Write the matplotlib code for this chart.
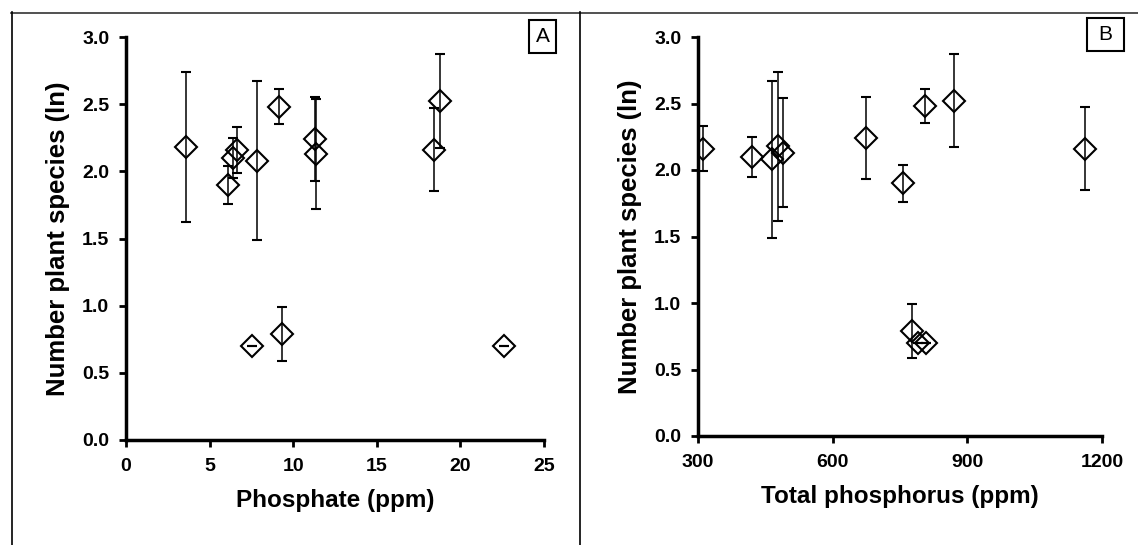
import matplotlib
matplotlib.use("Agg")
import matplotlib.pyplot as plt
from matplotlib.lines import Line2D
from matplotlib.patches import Rectangle

# ---- data (shared y values, two x variables) ----
species_ln = [2.18, 1.90, 2.10, 2.16, 2.08, 0.70, 2.48, 0.79, 2.24, 2.13, 2.16, 2.52, 0.70]
species_err = [0.56, 0.14, 0.15, 0.17, 0.59, 0.0, 0.13, 0.20, 0.31, 0.41, 0.31, 0.35, 0.0]
phosphate_ppm = [3.57, 6.09, 6.42, 6.61, 7.81, 7.53, 9.18, 9.33, 11.31, 11.35, 18.43, 18.80, 22.63]
total_p_ppm = [479, 756, 421, 312, 465, 789, 805, 776, 675, 490, 1162, 871, 809]

y_ticks = [0.0, 0.5, 1.0, 1.5, 2.0, 2.5, 3.0]
phosphate_ticks = [0, 5, 10, 15, 20, 25]
total_p_ticks = [300, 600, 900, 1200]

plt.rcParams['font.family'] = ['Liberation Sans', 'DejaVu Sans']

W, H = 1138, 545
fig = plt.figure(figsize=(W / 100, H / 100), dpi=100)


def fx(px):
    return px / W


def fy(py):
    return 1 - py / H


axA = fig.add_axes([fx(126), fy(440), fx(544) - fx(126), fy(37) - fy(440)])
axB = fig.add_axes([fx(698), fy(436), fx(1102) - fx(698), fy(37) - fy(436)])


def style(ax, x, xticks, xlim, xlabel):
    ax.errorbar(x, species_ln, yerr=species_err, fmt='D', mfc='none', mec='black',
                ms=11, mew=1.5, ecolor='black', elinewidth=1.1, capsize=3.5,
                capthick=1.4, zorder=3)
    ax.set_xlim(*xlim)
    ax.set_ylim(0, 3)
    ax.set_xticks(xticks)
    ax.set_yticks(y_ticks)
    ax.set_yticklabels([f"{v:.1f}" for v in y_ticks])
    for s in ['top', 'right']:
        ax.spines[s].set_visible(False)
    for s in ['left', 'bottom']:
        ax.spines[s].set_linewidth(2.5)
    ax.tick_params(direction='out', length=5, width=2, labelsize=14)
    ax.tick_params(axis='x', pad=8)
    ax.tick_params(axis='y', pad=7)
    for lab in ax.get_xticklabels() + ax.get_yticklabels():
        lab.set_fontweight('bold')
    ax.set_xlabel(xlabel, fontsize=17.5, fontweight='bold', labelpad=10)
    ax.set_ylabel("Number plant species (ln)", fontsize=18.5, fontweight='bold', labelpad=9)
    ax.patch.set_alpha(0)


style(axA, phosphate_ppm, phosphate_ticks, (0, 25), "Phosphate (ppm)")
style(axB, total_p_ppm, total_p_ticks, (300, 1200), "Total phosphorus (ppm)")

# panel letter boxes
for (x0, y0, x1, y1, letter) in [(529, 20, 556, 53, "A"), (1087, 18, 1124, 51, "B")]:
    fig.patches.append(Rectangle((fx(x0), fy(y1)), fx(x1) - fx(x0), fy(y0) - fy(y1),
                                 transform=fig.transFigure, fill=False, ec='black', lw=1.5))
    fig.text(fx((x0 + x1) / 2), fy((y0 + y1) / 2), letter, ha='center', va='center',
             fontsize=15)

# frame lines
fig.lines.append(Line2D([fx(11), fx(1138)], [fy(12.5), fy(12.5)], transform=fig.transFigure,
                        color='#333333', lw=1.2))
fig.lines.append(Line2D([fx(11.5), fx(11.5)], [fy(12), fy(545)], transform=fig.transFigure,
                        color='black', lw=1.2))
fig.lines.append(Line2D([fx(580), fx(580)], [fy(12), fy(545)], transform=fig.transFigure,
                        color='black', lw=1.2))

fig.savefig("out.png", dpi=100, facecolor='white')
